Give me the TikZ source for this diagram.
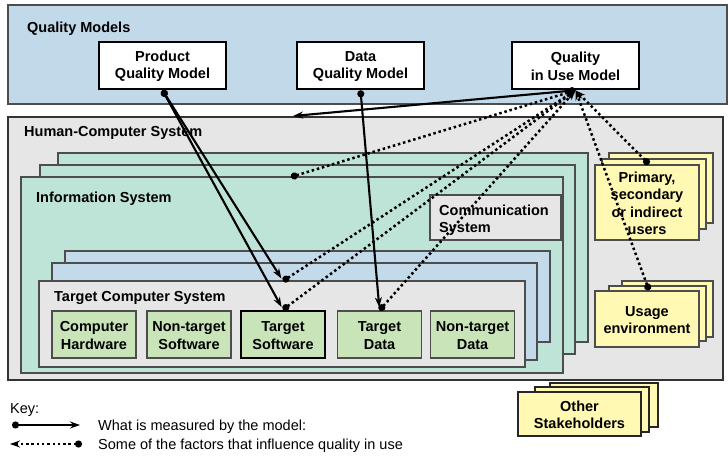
\documentclass[tikz,border=0pt]{standalone}
\usepackage{fontspec}
\setmainfont{Liberation Sans}
\usetikzlibrary{arrows.meta}
\definecolor{qmblue}{HTML}{C2D9E9}
\definecolor{hcsgray}{HTML}{E6E6E6}
\definecolor{isgreen}{HTML}{BEE3D7}
\definecolor{tblue}{HTML}{C3DAEA}
\definecolor{boxgreen}{HTML}{C8E4B8}
\definecolor{ylw}{HTML}{FFF9B4}
\definecolor{edgec}{HTML}{4D4D4D}
\newcommand\dfont{\fontsize{14.5bp}{17.3bp}\selectfont}
\begin{document}
\begin{tikzpicture}[x=1bp,y=-1bp,
  layer/.style={draw=edgec, line width=1.4bp},
  model/.style={draw=black, fill=white, line width=2.6bp, align=center, font=\dfont\bfseries,
    minimum width=127bp, minimum height=47bp, inner sep=0pt},
  comp/.style={draw=edgec, fill=boxgreen, line width=1.5bp, align=center, font=\dfont\bfseries,
    minimum width=84bp, minimum height=47bp, inner sep=0pt},
  ybox/.style={draw=edgec, fill=ylw, line width=1.5bp, align=center, font=\dfont\bfseries, inner sep=0pt},
  lbl/.style={anchor=west, inner sep=0pt, font=\dfont\bfseries, text height=10.5bp, text depth=0pt},
  mlbl/.style={anchor=west, inner sep=0pt, font=\dfont\bfseries, align=left},
  keytxt/.style={anchor=west, inner sep=0pt, font=\dfont, text height=10.5bp, text depth=0pt},
  measure/.style={line width=2.1bp, arrows={Circle[length=7bp]-Stealth[length=10bp,width=7bp]}},
  factor/.style={line width=2.5bp, dash pattern=on 2.5bp off 2.8bp, arrows={Circle[length=7bp]-Stealth[length=10bp,width=7bp]}}
]
\useasboundingbox (0,0) rectangle (728,466);
\fill[white] (0,0) rectangle (728,466);

% Quality models
\draw[fill=qmblue, draw=edgec, line width=1.5bp] (8,5) rectangle (727,104);
\node[lbl] (qmlbl) at (27,27) {Quality Models};
\node[model] (pqm) at (162.5,65.5) {\strut Product\\Quality Model};
\node[model] (dqm) at (360.5,65.5) {\strut Data\\Quality Model};
\node[model] (qiu) at (575.5,65.5) {\strut Quality\\in Use Model};

% Human-computer system
\draw[fill=hcsgray, draw=black!80, line width=2bp] (8,117) rectangle (723,380);
\node[lbl] (hcslbl) at (24,131) {Human-Computer System};

% Information system stack
\draw[layer, fill=isgreen] (58,153) rectangle (588,342);
\draw[layer, fill=isgreen] (40,165) rectangle (575,354);
\draw[layer, fill=isgreen] (21,177) rectangle (563,373);
\node[lbl] (islbl) at (36,197) {Information System};

% Communication system
\draw[layer, fill=hcsgray] (430,195) rectangle (561,240);
\node[mlbl] (comm) at (439,220) {Communication\\System};

% Target computer system stack
\draw[layer, fill=tblue] (65,251) rectangle (550,342);
\draw[layer, fill=tblue] (52,263) rectangle (537,360);
\draw[layer, fill=hcsgray] (39,281) rectangle (525,367);
\node[lbl] (tcslbl) at (54,296) {Target Computer System};

\node[comp] (ch) at (94,334.5) {\strut Computer\\Hardware};
\node[comp] (ns) at (189,334.5) {\strut Non-target\\Software};
\node[comp, draw=black, line width=2.6bp] (ts) at (283,334.5) {\strut Target\\Software};
\node[comp] (td) at (379.5,334.5) {\strut Target\\Data};
\node[comp] (nd) at (472.5,334.5) {\strut Non-target\\Data};

% Users stack
\draw[layer, fill=ylw] (609,153) rectangle (713,223);
\draw[layer, fill=ylw] (602,159) rectangle (706,229);
\node[ybox, minimum width=104bp, minimum height=75bp] (users) at (647,202.5) {\strut Primary,\\secondary\\or indirect\\users};

% Usage environment stack
\draw[layer, fill=ylw] (622,281) rectangle (713,337);
\draw[layer, fill=ylw] (609,286) rectangle (706,341);
\node[ybox, minimum width=104bp, minimum height=56bp] (usage) at (647,319) {\strut Usage\\environment};

% Other stakeholders stack
\draw[line width=1.8bp, draw=black!85, fill=ylw] (550,383) rectangle (658,427);
\draw[line width=1.8bp, draw=black!85, fill=ylw] (535,387) rectangle (649,432);
\node[ybox, draw=black!85, line width=1.8bp, minimum width=123bp, minimum height=44bp] (other) at (579.5,414) {\strut Other\\Stakeholders};

% connector end points
\coordinate (isdot) at (291,177);
\coordinate (tsdot) at (283,281);
\coordinate (hcsarr) at (293,116);
\coordinate (usrdot) at ([xshift=2bp]users.north);
\coordinate (usgdot) at ([xshift=2bp]usage.north);

% factors (dotted)
\draw[factor] (isdot) -- (qiu.south);
\draw[factor] (tsdot) -- (qiu.south);
\draw[factor] (ts.north) -- (qiu.south);
\draw[factor] (td.north) -- (qiu.south);
\draw[factor] (usrdot) -- (qiu.south);
\draw[factor] (usgdot) -- (qiu.south);

% measured (solid)
\draw[measure, shorten >=3bp] (pqm.south) -- (tsdot);
\draw[measure, shorten >=3bp] (pqm.south) -- (ts.north);
\draw[measure, shorten >=3bp] (dqm.south) -- (td.north);
\draw[measure] (qiu.south) -- (hcsarr);

% key
\node[keytxt] (key) at (10,408) {Key:};
\coordinate (k1s) at (12,425);
\coordinate (k1e) at (80,425);
\coordinate (k2s) at (82,444);
\coordinate (k2e) at (10,444);
\draw[measure] (k1s) -- (k1e);
\draw[factor] (k2s) -- (k2e);
\node[keytxt] (key1) at (98,425) {What is measured by the model:};
\node[keytxt] (key2) at (98,444) {Some of the factors that influence quality in use};
\end{tikzpicture}
\end{document}
